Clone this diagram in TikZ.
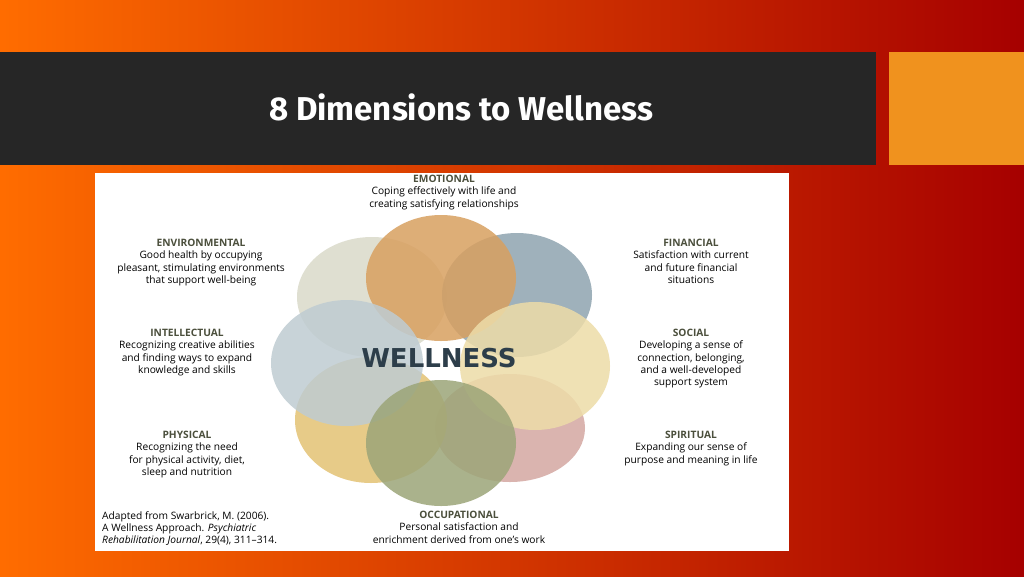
\documentclass[tikz,border=0pt]{standalone}
\usepackage{fontspec}
\setmainfont{Open Sans}
\newfontfamily\titlefont{Fira Sans}
\newfontfamily\bigfont{DejaVu Sans}
\usetikzlibrary{positioning}
\definecolor{slidebar}{HTML}{262626}
\definecolor{slidebox}{HTML}{F0921E}
\definecolor{headcol}{HTML}{4B4F3C}
\definecolor{wellcol}{HTML}{2D3E4A}
\definecolor{emocol}{HTML}{D8A060}
\definecolor{fincol}{HTML}{8FA4B0}
\definecolor{envcol}{HTML}{DADACA}
\definecolor{intcol}{HTML}{BFCCD2}
\definecolor{soccol}{HTML}{EDDCA8}
\definecolor{phycol}{HTML}{E3C274}
\definecolor{spicol}{HTML}{D4A8A2}
\definecolor{occcol}{HTML}{9CA578}
\tikzset{
  dimtext/.style={align=center, anchor=north, font=\fontsize{10.2}{12.3}\selectfont, text=black, inner sep=0pt},
  petal/.style={opacity=0.85}
}
\newcommand{\dimhead}[1]{{\bfseries\color{headcol}#1}}
\begin{document}
\begin{tikzpicture}[x=1pt, y=-1pt]

% slide background
\useasboundingbox (0,0) rectangle (1024,576);
\shade[shading=axis, shading angle=135, left color=orange!85!red, right color=red!65!black] (0,0) rectangle (1024,576);
\fill[slidebar] (0,52) rectangle (876,165);
\fill[slidebox] (889,52) rectangle (1024,165);
\node[text=white, font=\titlefont\bfseries\fontsize{33}{40}\selectfont] (title) at (461,107) {8 Dimensions to Wellness};

% picture panel
\fill[white] (95,173) rectangle (789,551);

% petals
\fill[petal, spicol] (510,428) ellipse [x radius=75pt, y radius=54pt];
\fill[petal, phycol] (371,420) ellipse [x radius=76pt, y radius=63pt];
\fill[petal, envcol] (372,297) ellipse [x radius=75pt, y radius=60pt];
\fill[petal, fincol] (517,295) ellipse [x radius=75pt, y radius=62pt];
\fill[petal, emocol] (441,278) ellipse [x radius=75pt, y radius=63pt];
\fill[petal, intcol] (347,363) ellipse [x radius=76pt, y radius=63pt];
\fill[petal, soccol] (535,366) ellipse [x radius=75pt, y radius=64pt];
\fill[petal, occcol] (441,443) ellipse [x radius=75pt, y radius=63pt];
\node[text=wellcol, font=\bigfont\bfseries\fontsize{26}{30}\selectfont] (well) at (439,358) {WELLNESS};

% labels
\node[dimtext] (emo) at (444,175) {\dimhead{EMOTIONAL}\\Coping effectively with life and\\creating satisfying relationships};
\node[dimtext] (env) at (201,239) {\dimhead{ENVIRONMENTAL}\\Good health by occupying\\pleasant, stimulating environments\\that support well-being};
\node[dimtext] (fin) at (691,239) {\dimhead{FINANCIAL}\\Satisfaction with current\\and future financial\\situations};
\node[dimtext] (int) at (187,329) {\dimhead{INTELLECTUAL}\\Recognizing creative abilities\\and finding ways to expand\\knowledge and skills};
\node[dimtext] (soc) at (691,329) {\dimhead{SOCIAL}\\Developing a sense of\\connection, belonging,\\and a well-developed\\support system};
\node[dimtext] (phy) at (187,431) {\dimhead{PHYSICAL}\\Recognizing the need\\for physical activity, diet,\\sleep and nutrition};
\node[dimtext] (spi) at (691,431) {\dimhead{SPIRITUAL}\\Expanding our sense of\\purpose and meaning in life};
\node[dimtext] (occ) at (459,511) {\dimhead{OCCUPATIONAL}\\Personal satisfaction and\\enrichment derived from one's work};
\node[dimtext, align=left, anchor=north west] (cite) at (102,511) {Adapted from Swarbrick, M. (2006).\\A Wellness Approach. \emph{Psychiatric}\\\emph{Rehabilitation Journal}, 29(4), 311--314.};

\end{tikzpicture}
\end{document}
